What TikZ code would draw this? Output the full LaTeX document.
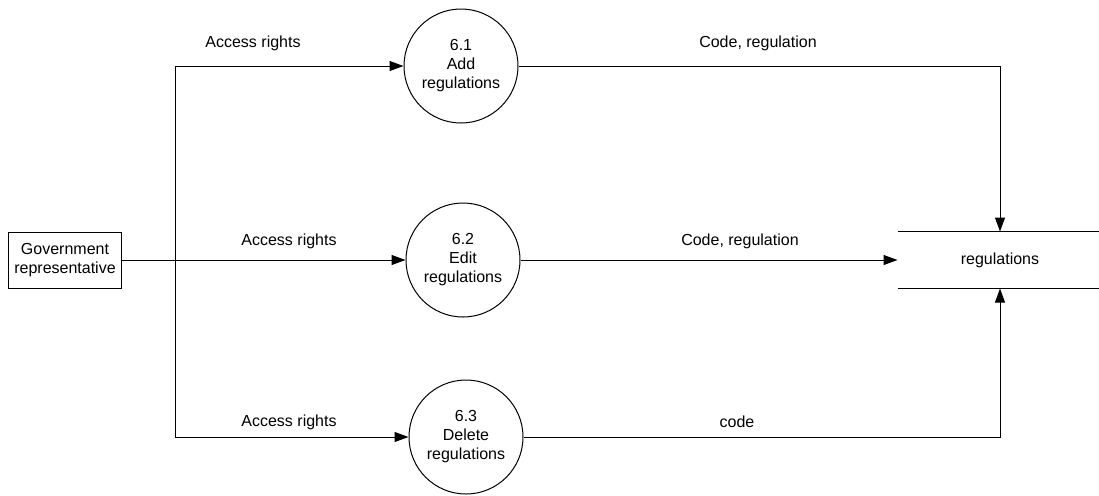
\documentclass[tikz,border=0pt]{standalone}
\usepackage{fontspec}
\setmainfont{Liberation Sans}
\usetikzlibrary{arrows.meta}
\begin{document}
\begin{tikzpicture}[x=0.5pt,y=-0.5pt,line width=0.5pt,
  every node/.style={font=\fontsize{8}{9.5}\selectfont},
  process/.style={draw,circle,minimum size=57pt,inner sep=0pt,align=center},
  entity/.style={draw,minimum width=56.5pt,minimum height=28pt,inner sep=1pt,align=center},
  flow/.style={-{Triangle[length=7pt,width=5pt]}}]
  \useasboundingbox (0,0) rectangle (1099,495);
  % External entity, processes and data store
  \node[entity] (gov) at (65,260) {Government\\representative};
  \node[process] (p1) at (461,66) {6.1\\Add\\regulations};
  \node[process] (p2) at (463,260) {6.2\\Edit\\regulations};
  \node[process] (p3) at (466,437) {6.3\\Delete\\regulations};
  \node[minimum width=102pt,minimum height=28pt,inner sep=0pt] (store) at (1000,260) {regulations};
  \draw (store.north west) -- (store.north east);
  \draw (store.south west) -- (store.south east);
  % Access rights flows
  \coordinate (split top) at (175,66);
  \coordinate (split bot) at (175,437);
  \draw (split top) -- (split bot);
  \draw[flow] (split top) -- (p1);
  \draw[flow] (gov) -- (p2);
  \draw[flow] (split bot) -- (p3);
  % Flows into the store
  \draw[flow] (p1) -| (store.north);
  \draw[flow] (p2) -- (store.west);
  \draw[flow] (p3) -| (store.south);
  % Flow labels
  \node (acc1) at (253,43) {Access rights};
  \node (acc2) at (289,241) {Access rights};
  \node (acc3) at (289,422) {Access rights};
  \node (code1) at (758,43) {Code, regulation};
  \node (code2) at (740,241) {Code, regulation};
  \node (code3) at (737,422) {code};
\end{tikzpicture}
\end{document}
